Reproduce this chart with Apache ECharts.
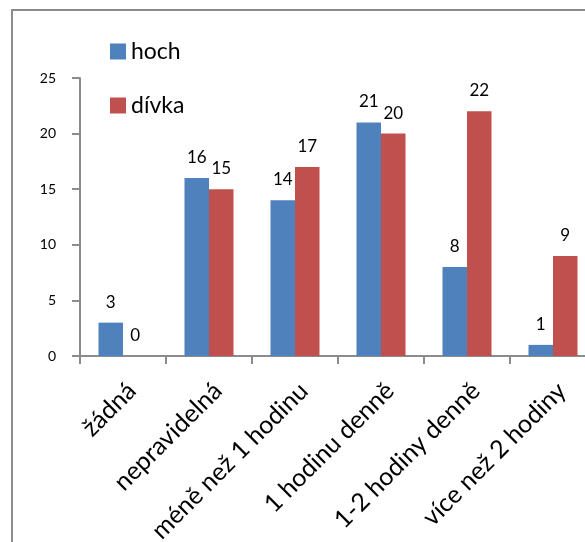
<!DOCTYPE html>
<html lang="cs">
<head>
    <meta charset="UTF-8">
    <title>hoch / dívka</title>
    <script type="text/javascript" src="https://cdn.jsdelivr.net/npm/echarts@6/dist/echarts.min.js"></script>
    <style>
        html, body { margin: 0; padding: 0; background: #fff; overflow: hidden; }
        /* graf je v originale oriznuty vpravo, proto je kontejner sirsi nez okno */
        #main { width: 600px; height: 542px; }
    </style>
</head>
<body>
<div id="main"></div>
<script>
    // data
    var categories = ['žádná', 'nepravidelná', 'méně než 1 hodinu', '1 hodinu denně', '1-2 hodiny denně', 'více než 2 hodiny'];
    var hoch = [3, 16, 14, 21, 8, 1];
    var divka = [0, 15, 17, 20, 22, 9];
    var seriesNames = ['hoch', 'dívka'];

    var font = 'Lato, "Open Sans", "DejaVu Sans", sans-serif';
    var chart = echarts.init(document.getElementById('main'));

    var labelStyle = {
        show: true,
        position: 'top',
        distance: 12,
        color: '#000',
        fontSize: 17,
        fontFamily: font
    };

    var option = {
        animation: false,
        textStyle: { fontFamily: font },
        // ramecek grafu
        graphic: [{
            type: 'rect',
            shape: { x: 12, y: 10, width: 640, height: 600 },
            style: { fill: 'none', stroke: '#8c8c8c', lineWidth: 2 },
            silent: true
        }],
        legend: {
            orient: 'vertical',
            left: 105,
            top: 35,
            itemWidth: 16,
            itemHeight: 16,
            itemGap: 31,
            icon: 'rect',
            textStyle: { fontSize: 23, color: '#000', fontFamily: font },
            data: seriesNames
        },
        grid: {
            left: 80,
            top: 78,
            right: 4,
            height: 278,
            outerBoundsMode: 'none'
        },
        xAxis: {
            type: 'category',
            data: categories,
            axisLine: { lineStyle: { color: '#8c8c8c', width: 2 } },
            axisTick: { show: true, length: 8, lineStyle: { color: '#8c8c8c', width: 2 } },
            axisLabel: {
                rotate: 45,
                interval: 0,
                margin: 22,
                verticalAlign: 'top',
                color: '#000',
                fontSize: 25,
                fontFamily: font
            }
        },
        yAxis: {
            type: 'value',
            min: 0,
            max: 25,
            interval: 5,
            splitLine: { show: false },
            axisLine: { show: true, lineStyle: { color: '#8c8c8c', width: 2 } },
            axisTick: { show: true, length: 8, lineStyle: { color: '#8c8c8c', width: 2 } },
            axisLabel: { margin: 24, color: '#000', fontSize: 14, fontFamily: font }
        },
        series: [{
            name: seriesNames[0],
            type: 'bar',
            data: hoch,
            barGap: '0%',
            barCategoryGap: '43%',
            itemStyle: { color: '#4F81BD' },
            label: labelStyle
        }, {
            name: seriesNames[1],
            type: 'bar',
            data: divka,
            itemStyle: { color: '#C0504D' },
            label: labelStyle
        }]
    };

    chart.setOption(option);
</script>
</body>
</html>
